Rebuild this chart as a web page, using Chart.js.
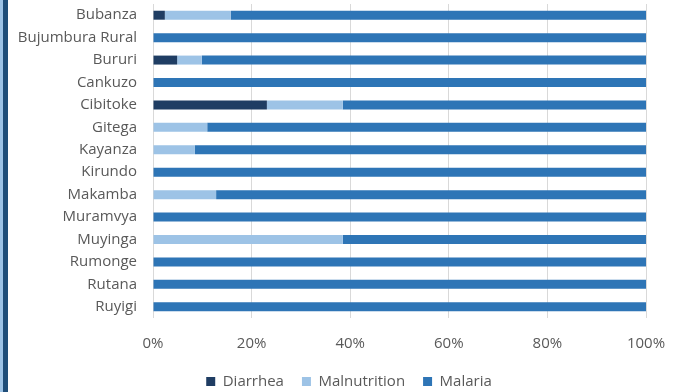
<!DOCTYPE html>
<html><head><meta charset="utf-8">
<script src="https://cdn.jsdelivr.net/npm/chart.js@4/dist/chart.umd.min.js"></script>
<style>
html,body{margin:0;padding:0;background:#fff;}
#wrap{position:relative;width:680px;height:392px;}
#b1{position:absolute;left:0;top:0;width:3px;height:392px;background:#9dc3e6;}
#b2{position:absolute;left:3px;top:0;width:5px;height:392px;background:#1f4e79;}
canvas{position:absolute;left:0;top:0;}
</style></head>
<body><div id="wrap"><canvas id="c" width="680" height="392"></canvas><div id="b1"></div><div id="b2"></div></div>
<script>
const categories = ["Bubanza","Bujumbura Rural","Bururi","Cankuzo","Cibitoke","Gitega","Kayanza","Kirundo","Makamba","Muramvya","Muyinga","Rumonge","Rutana","Ruyigi"];
const diarrhea     = [2.4, 0, 4.9, 0, 23.1, 0, 0, 0, 0, 0, 0, 0, 0, 0];
const malnutrition = [13.4, 0, 5.0, 0, 15.4, 11.0, 8.5, 0, 12.8, 0, 38.5, 0, 0, 0];
const malaria = categories.map((_, i) => 100 - diarrhea[i] - malnutrition[i]);
const xTicks = [0, 20, 40, 60, 80, 100];

const font = {family: "'Open Sans', sans-serif", size: 15};
new Chart(document.getElementById('c'), {
  type: 'bar',
  data: {
    labels: categories,
    datasets: [
      {label: 'Diarrhea', data: diarrhea, backgroundColor: '#1f3d63'},
      {label: 'Malnutrition', data: malnutrition, backgroundColor: '#9dc3e6'},
      {label: 'Malaria', data: malaria, backgroundColor: '#2e75b6'}
    ]
  },
  options: {
    indexAxis: 'y',
    responsive: false,
    animation: false,
    layout: {padding: {left: 8, right: -10, top: 4, bottom: -7}},
    datasets: {bar: {barPercentage: 0.8, categoryPercentage: 0.5}},
    scales: {
      x: {
        stacked: true, min: 0, max: 100,
        afterBuildTicks: s => { s.ticks = xTicks.map(v => ({value: v})); },
        ticks: {callback: v => v + '%', color: '#595959', font: font, padding: 17},
        grid: {color: '#d9d9d9', drawTicks: false},
        border: {display: false},
        afterFit: s => { s.height = 38; s.paddingRight = 34; }
      },
      y: {
        stacked: true,
        ticks: {color: '#595959', font: font, padding: 16},
        grid: {display: false, drawTicks: false},
        border: {display: false},
        afterFit: s => { s.width = 145; s.paddingTop = 0; s.paddingBottom = 0; }
      }
    },
    plugins: {
      legend: {
        position: 'bottom',
        labels: {color: '#595959', font: font, boxWidth: 9, boxHeight: 9, padding: 18}
      },
      tooltip: {enabled: false}
    }
  }
});
</script></body></html>
